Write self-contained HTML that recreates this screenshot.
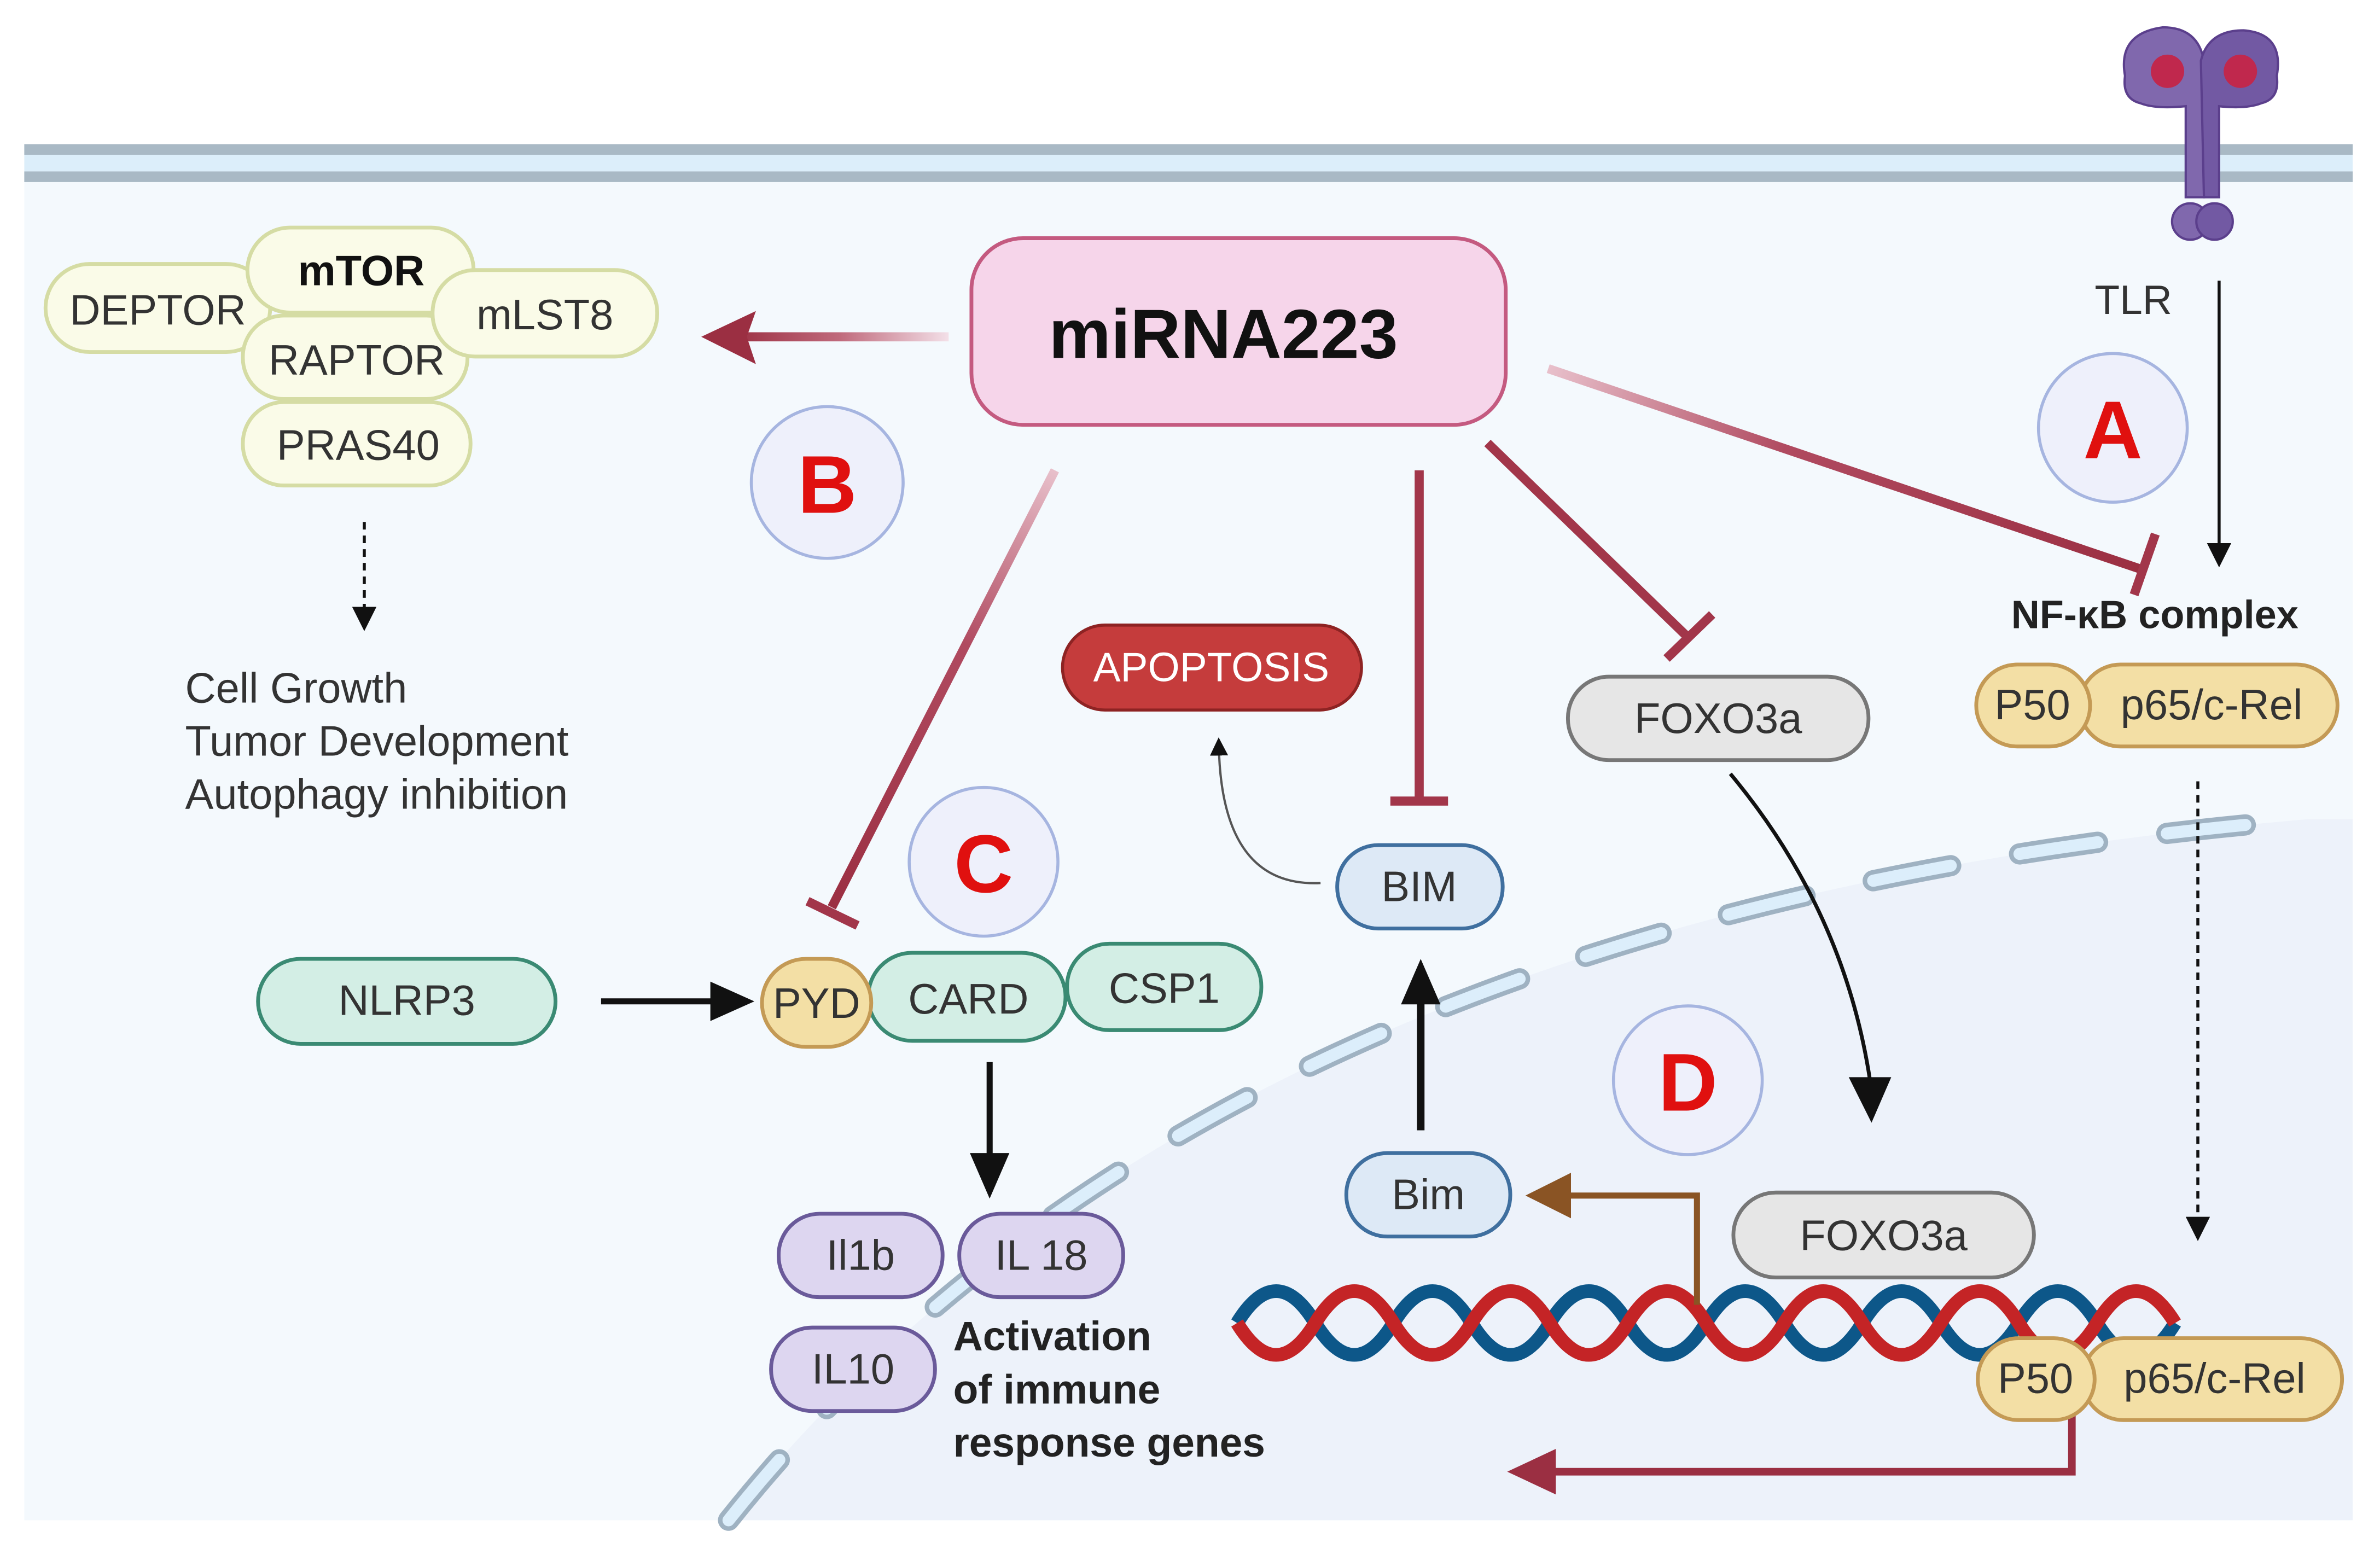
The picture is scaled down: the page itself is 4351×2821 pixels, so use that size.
<!DOCTYPE html>
<html><head><meta charset="utf-8"><style>
html,body{margin:0;padding:0;background:#fff}
svg{display:block}
text{font-family:"Liberation Sans",sans-serif}
</style></head><body>
<svg width="4351" height="2821" viewBox="0 0 1568 1017" preserveAspectRatio="none" xmlns="http://www.w3.org/2000/svg">
<defs>
<marker id="as" markerWidth="8" markerHeight="8" refX="4" refY="4" orient="auto" markerUnits="strokeWidth"><path d="M0,0 L8,4 L0,8 Z" fill="#111"/></marker>
<linearGradient id="gl" gradientUnits="userSpaceOnUse" x1="625" y1="0" x2="482" y2="0"><stop offset="0" stop-color="#f3e0e8"/><stop offset="0.5" stop-color="#c06a7c"/><stop offset="1" stop-color="#9b2f42"/></linearGradient>
<linearGradient id="ga" gradientUnits="userSpaceOnUse" x1="1020" y1="243" x2="1410" y2="375"><stop offset="0" stop-color="#e8c0cb"/><stop offset="0.4" stop-color="#b04a60"/><stop offset="1" stop-color="#9b2f42"/></linearGradient>
<linearGradient id="gc" gradientUnits="userSpaceOnUse" x1="695" y1="310" x2="548" y2="598"><stop offset="0" stop-color="#e8c0cb"/><stop offset="0.4" stop-color="#b04a60"/><stop offset="1" stop-color="#9b2f42"/></linearGradient>
</defs>
<rect x="0" y="0" width="1568" height="1017" fill="#fff"/>
<rect x="16" y="120" width="1534" height="882" fill="#f4f9fd"/>
<path d="M480,1002 Q800,600 1520,540 L1550,540 L1550,1002 Z" fill="#edf2fa"/>
<path d="M480,1002 Q800,600 1520,540" fill="none" stroke="#9fb2c2" stroke-width="14" stroke-linecap="round" stroke-dasharray="52 46"/>
<path d="M480,1002 Q800,600 1520,540" fill="none" stroke="#dceefb" stroke-width="8" stroke-linecap="round" stroke-dasharray="52 46"/>
<rect x="16" y="95" width="1534" height="25" fill="#dceefa"/>
<rect x="16" y="95" width="1534" height="7" fill="#a9b9c5"/>
<rect x="16" y="113" width="1534" height="7" fill="#a9b9c5"/>
<g stroke="#5b3f8c" stroke-width="1.5" fill="#8068ad">
<path d="M1400,50 Q1395,22 1425,18 Q1448,18 1452,40 L1452,130 L1440,130 L1440,70 Q1420,72 1410,68 Q1398,65 1400,50 Z"/>
<path d="M1500,50 Q1505,22 1478,20 Q1455,20 1450,40 L1452,130 L1462,130 L1462,70 Q1480,72 1490,68 Q1502,65 1500,50 Z" fill="#7259a3"/>
<circle cx="1443" cy="146" r="12"/><circle cx="1459" cy="146" r="12" fill="#7259a3"/>
</g>
<circle cx="1428" cy="47" r="11" fill="#c0284d"/><circle cx="1476" cy="47" r="11" fill="#c0284d"/>
<text x="1380" y="207" font-size="27" fill="#333">TLR</text>
<line x1="1462" y1="185" x2="1462" y2="366" stroke="#111" stroke-width="2" marker-end="url(#as)"/>
<g fill="#fafbe8" stroke="#d5dca4" stroke-width="2.5">
<rect x="30" y="174" width="148" height="58" rx="29"/>
<rect x="160" y="265" width="150" height="55" rx="27"/>
<rect x="160" y="208" width="148" height="55" rx="27"/>
<rect x="163" y="150" width="149" height="56" rx="28"/>
<rect x="285" y="178" width="148" height="57" rx="28"/>
</g>
<text x="104" y="214" font-size="28" fill="#333" text-anchor="middle">DEPTOR</text>
<text x="238" y="188" font-size="28" fill="#111" font-weight="bold" text-anchor="middle">mTOR</text>
<text x="235" y="247" font-size="28" fill="#333" text-anchor="middle">RAPTOR</text>
<text x="359" y="217" font-size="28" fill="#333" text-anchor="middle">mLST8</text>
<text x="236" y="303" font-size="28" fill="#333" text-anchor="middle">PRAS40</text>
<line x1="240" y1="344" x2="240" y2="408" stroke="#111" stroke-width="2" stroke-dasharray="5 4" marker-end="url(#as)"/>
<text font-size="28" fill="#333"><tspan x="122" y="463">Cell Growth</tspan><tspan x="122" y="498">Tumor Development</tspan><tspan x="122" y="533">Autophagy inhibition</tspan></text>
<rect x="640" y="157" width="352" height="123" rx="34" fill="#f6d5ea" stroke="#c45a80" stroke-width="2.5"/>
<text x="806" y="236" font-size="46" font-weight="bold" fill="#111" text-anchor="middle">miRNA223</text>
<rect x="482" y="219" width="143" height="6" fill="url(#gl)"/>
<path d="M462,222 L498,205 L492,222 L498,240 Z" fill="#9b2f42"/>
<g stroke="#a2364a" stroke-width="6" fill="none">
<line x1="1020" y1="243" x2="1410" y2="375" stroke="url(#ga)"/><line x1="1420" y1="352" x2="1406" y2="392"/>
<line x1="695" y1="310" x2="548" y2="598" stroke="url(#gc)"/><line x1="532" y1="594" x2="565" y2="610"/>
<line x1="935" y1="310" x2="935" y2="528"/><line x1="916" y1="528" x2="954" y2="528"/>
<line x1="980" y1="292" x2="1112" y2="420"/><line x1="1098" y1="434" x2="1128" y2="405"/>
</g>
<g fill="#eef0fb" stroke="#a6b5e0" stroke-width="2">
<circle cx="545" cy="318" r="50"/><circle cx="1392" cy="282" r="49"/><circle cx="648" cy="568" r="49"/><circle cx="1112" cy="712" r="49"/>
</g>
<g font-size="54" font-weight="bold" fill="#e0100f" text-anchor="middle">
<text x="545" y="338">B</text><text x="1392" y="302">A</text><text x="648" y="588">C</text><text x="1112" y="732">D</text>
</g>
<g fill="none" stroke-width="9">
<path d="M815,872 q25.75,-42 51.5,0 t51.5,0 t51.5,0 t51.5,0 t51.5,0 t51.5,0 t51.5,0 t51.5,0 t51.5,0 t51.5,0 t51.5,0 t51.5,0" stroke="#0d5789"/>
<path d="M815,872 q25.75,42 51.5,0 t51.5,0 t51.5,0 t51.5,0 t51.5,0 t51.5,0 t51.5,0 t51.5,0 t51.5,0 t51.5,0 t51.5,0 t51.5,0" stroke="#c42426"/>
</g>
<path d="M1365,930 L1365,970 L1020,970" fill="none" stroke="#9b2f42" stroke-width="5"/>
<path d="M993,970 L1025,955 L1025,985 Z" fill="#9b2f42"/>
<text x="1325" y="414" font-size="26" font-weight="bold" fill="#222">NF-κB complex</text>
<g fill="#f3dfa5" stroke="#c49a55" stroke-width="2.5">
<rect x="1370" y="438" width="170" height="54" rx="27"/><rect x="1302" y="438" width="75" height="54" rx="27"/>
<rect x="1372" y="882" width="171" height="54" rx="27"/><rect x="1303" y="882" width="77" height="54" rx="27"/>
</g>
<g font-size="28" fill="#333" text-anchor="middle">
<text x="1339" y="474">P50</text><text x="1457" y="474">p65/c-Rel</text>
<text x="1341" y="918">P50</text><text x="1459" y="918">p65/c-Rel</text>
</g>
<line x1="1448" y1="515" x2="1448" y2="810" stroke="#111" stroke-width="2" stroke-dasharray="5 4" marker-end="url(#as)"/>
<rect x="700" y="412" width="197" height="56" rx="28" fill="#c53c3c" stroke="#8e2323" stroke-width="2"/>
<text x="798" y="449" font-size="27" fill="#fff" text-anchor="middle">APOPTOSIS</text>
<path d="M870,582 Q805,585 803,492" fill="none" stroke="#555" stroke-width="1.5" marker-end="url(#as)"/>
<rect x="1033" y="446" width="198" height="55" rx="27" fill="#e6e6e6" stroke="#777" stroke-width="2.5"/>
<text x="1132" y="483" font-size="28" fill="#333" text-anchor="middle">FOXO3a</text>
<rect x="1142" y="786" width="198" height="56" rx="28" fill="#e6e6e6" stroke="#777" stroke-width="2.5"/>
<text x="1241" y="824" font-size="28" fill="#333" text-anchor="middle">FOXO3a</text>
<path d="M1140,510 Q1215,600 1232,712" fill="none" stroke="#111" stroke-width="2.5"/>
<path d="M1218,710 L1246,710 L1233,740 Z" fill="#111"/>
<rect x="881" y="557" width="109" height="55" rx="27" fill="#dde9f6" stroke="#3f6f9f" stroke-width="2.5"/>
<text x="935" y="594" font-size="28" fill="#333" text-anchor="middle">BIM</text>
<rect x="887" y="760" width="108" height="55" rx="27" fill="#dde9f6" stroke="#3f6f9f" stroke-width="2.5"/>
<text x="941" y="797" font-size="28" fill="#333" text-anchor="middle">Bim</text>
<line x1="936" y1="745" x2="936" y2="660" stroke="#111" stroke-width="5"/>
<path d="M923,662 L949,662 L936,632 Z" fill="#111"/>
<path d="M1118,860 L1118,788 L1030,788" fill="none" stroke="#8a5424" stroke-width="4"/>
<path d="M1005,788 L1035,773 L1035,803 Z" fill="#8a5424"/>
<rect x="170" y="632" width="196" height="56" rx="28" fill="#d3eee5" stroke="#3a8a73" stroke-width="2.5"/>
<text x="268" y="669" font-size="28" fill="#333" text-anchor="middle">NLRP3</text>
<line x1="396" y1="660" x2="470" y2="660" stroke="#111" stroke-width="4"/>
<path d="M497,660 L468,647 L468,673 Z" fill="#111"/>
<rect x="703" y="622" width="128" height="57" rx="28" fill="#d3eee5" stroke="#3a8a73" stroke-width="2.5"/>
<rect x="572" y="628" width="130" height="58" rx="29" fill="#d3eee5" stroke="#3a8a73" stroke-width="2.5"/>
<rect x="502" y="632" width="72" height="58" rx="29" fill="#f3dfa5" stroke="#c49a55" stroke-width="2.5"/>
<text x="538" y="671" font-size="28" fill="#333" text-anchor="middle">PYD</text>
<text x="638" y="668" font-size="28" fill="#333" text-anchor="middle">CARD</text>
<text x="767" y="661" font-size="28" fill="#333" text-anchor="middle">CSP1</text>
<line x1="652" y1="700" x2="652" y2="762" stroke="#111" stroke-width="4"/>
<path d="M639,760 L665,760 L652,790 Z" fill="#111"/>
<g fill="#ddd6f0" stroke="#6a5a9a" stroke-width="2.5">
<rect x="513" y="800" width="108" height="55" rx="27"/><rect x="632" y="800" width="108" height="55" rx="27"/><rect x="508" y="875" width="108" height="55" rx="27"/>
</g>
<g font-size="28" fill="#333" text-anchor="middle">
<text x="567" y="837">Il1b</text><text x="686" y="837">IL 18</text><text x="562" y="912">IL10</text>
</g>
<text font-size="27" font-weight="bold" fill="#222"><tspan x="628" y="890">Activation</tspan><tspan x="628" y="925">of immune</tspan><tspan x="628" y="960">response genes</tspan></text>
</svg>
</body></html>
